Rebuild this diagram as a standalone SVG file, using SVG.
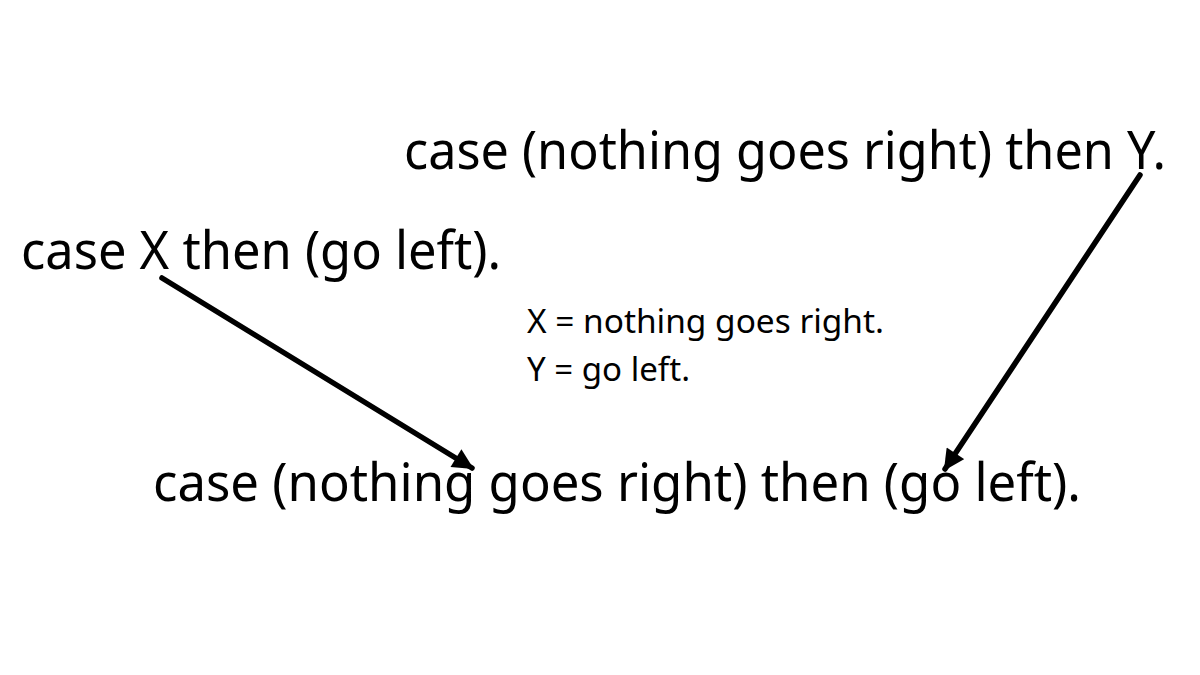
<svg xmlns="http://www.w3.org/2000/svg" width="1200" height="675" viewBox="0 0 1200 675">
<style>
.big{font-family:"Noto Sans","Open Sans",sans-serif;font-size:53px;fill:#000}
.small{font-family:"Noto Sans","Open Sans",sans-serif;font-size:33px;fill:#000}
.conn{stroke:#000;stroke-width:5.5;stroke-linecap:round;fill:none}
</style>
<defs>
<marker id="ah" viewBox="0 0 10 10" refX="9" refY="5" markerWidth="4.2" markerHeight="3.8" orient="auto" markerUnits="strokeWidth">
<path d="M0,0 L10,5 L0,10 z" fill="#000"/>
</marker>
</defs>
<rect width="1200" height="675" fill="#fff"/>
<g id="node-top"><text class="big" x="404" y="169" textLength="762" lengthAdjust="spacingAndGlyphs">case (nothing goes right) then Y.</text></g>
<g id="node-left"><text class="big" x="21" y="269" textLength="480" lengthAdjust="spacingAndGlyphs">case X then (go left).</text></g>
<g id="node-defs">
<text class="small" x="527" y="333" textLength="357" lengthAdjust="spacingAndGlyphs">X = nothing goes right.</text>
<text class="small" x="527" y="381" textLength="163" lengthAdjust="spacingAndGlyphs">Y = go left.</text>
</g>
<g id="node-bottom"><text class="big" x="153" y="501" textLength="928" lengthAdjust="spacingAndGlyphs">case (nothing goes right) then (go left).</text></g>
<g id="connectors">
<line class="conn" x1="162" y1="278" x2="472" y2="468" marker-end="url(#ah)"/>
<line class="conn" x1="1140" y1="175" x2="945" y2="469" marker-end="url(#ah)"/>
</g>
</svg>
